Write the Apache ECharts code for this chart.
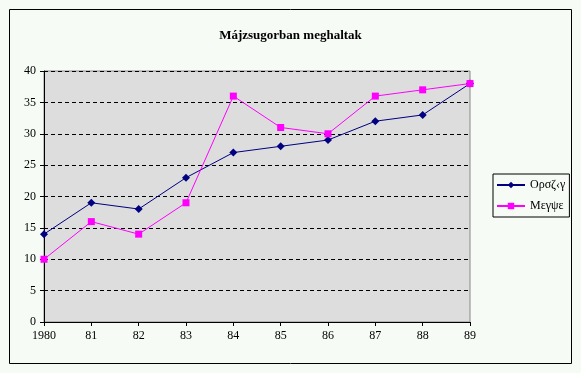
<!DOCTYPE html>
<html><head><meta charset="utf-8">
<script src="https://cdn.jsdelivr.net/npm/echarts@6/dist/echarts.min.js"></script>
<style>html,body{margin:0;padding:0;background:#F6FBF6;}#c{width:581px;height:373px;}</style>
</head><body><div id="c"></div>
<script>
const categories = ['1980','81','82','83','84','85','86','87','88','89'];
const orszag = [14,19,18,23,27,28,29,32,33,38];
const megye = [10,16,14,19,36,31,30,36,37,38];
const seriesNames = ['Ορσζ‹γ','Μεγψε'];
const chart = echarts.init(document.getElementById('c'));
const font = 'Liberation Serif';
chart.setOption({
  backgroundColor: '#F6FBF6',
  animation: false,
  title: { text: 'Májzsugorban meghaltak', left: 'center', top: 24,
    textStyle: { fontFamily: font, fontSize: 13, fontWeight: 'bold', color: '#000' } },
  graphic: [{ type: 'rect', shape: { x: 9.5, y: 9.5, width: 562, height: 354 },
    style: { fill: 'none', stroke: '#000', lineWidth: 1 }, silent: true }],
  legend: {
    orient: 'vertical', left: 493, top: 174, itemWidth: 28, itemHeight: 8, itemGap: 9,
    borderColor: '#000', borderWidth: 1, padding: [5, 4, 5, 3], borderRadius: 0,
    textStyle: { fontFamily: font, fontSize: 12, color: '#000' },
    data: seriesNames
  },
  grid: { left: 44, top: 71, right: 111, bottom: 51, show: true, backgroundColor: '#DDDDDD', borderColor: '#888', borderWidth: 1 },
  xAxis: { type: 'category', data: categories, boundaryGap: false,
    axisLine: { lineStyle: { color: '#000' } },
    axisTick: { alignWithLabel: true, length: 4, lineStyle: { color: '#000' } },
    axisLabel: { fontFamily: font, fontSize: 12, color: '#000', margin: 8 },
    splitLine: { show: false } },
  yAxis: { type: 'value', min: 0, max: 40, interval: 5,
    axisLine: { show: true, lineStyle: { color: '#000' } },
    axisTick: { show: true, length: 4, lineStyle: { color: '#000' } },
    axisLabel: { fontFamily: font, fontSize: 12, color: '#000', margin: 8 },
    splitLine: { lineStyle: { color: '#000', type: [4, 3], width: 1 } } },
  series: [
    { name: seriesNames[0], type: 'line', data: orszag, symbol: 'diamond', symbolSize: 8,
      itemStyle: { color: '#000080' }, lineStyle: { color: '#000080', width: 1 } },
    { name: seriesNames[1], type: 'line', data: megye, symbol: 'rect', symbolSize: 7,
      itemStyle: { color: '#FF00FF' }, lineStyle: { color: '#FF00FF', width: 1 } }
  ]
});
</script></body></html>
